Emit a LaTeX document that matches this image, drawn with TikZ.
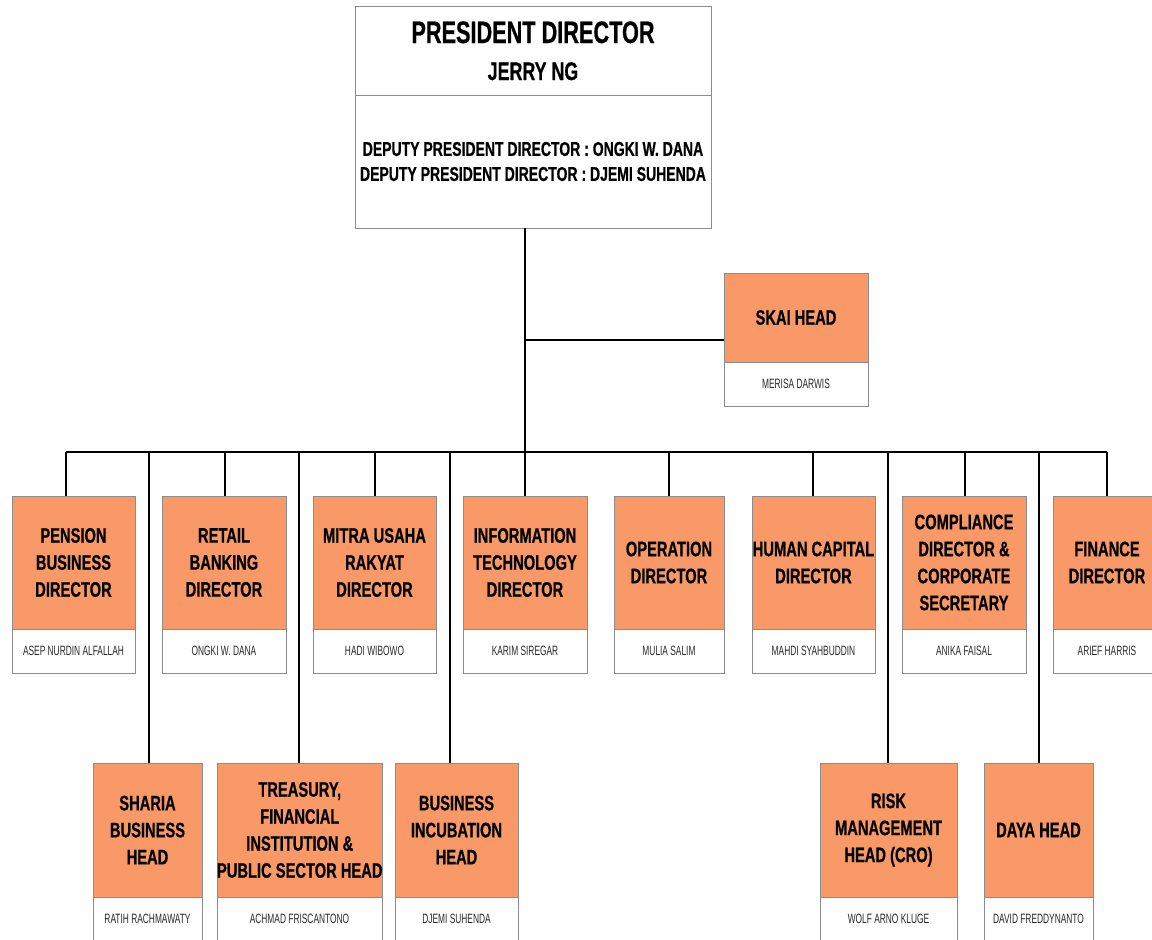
\documentclass[tikz,border=0pt]{standalone}
\usepackage{fontspec}
\setmainfont{Liberation Sans}[FakeStretch=0.7, BoldFeatures={FakeBold=0.6}]
\newfontfamily\namefont{Liberation Sans}[FakeStretch=0.62]
\definecolor{boxorange}{RGB}{250,153,104}
\definecolor{boxline}{RGB}{140,140,140}
\definecolor{nametext}{RGB}{40,40,40}
\tikzset{
  box/.style={draw=boxline, line width=0.8pt, inner sep=0pt, outer sep=0pt, anchor=north west},
  ttl/.style={box, fill=boxorange, align=center, text=black, font=\bfseries\fontsize{21}{27}\selectfont},
  nm/.style={box, fill=white, minimum height=44, text=nametext, font=\namefont\fontsize{13.5}{15}\selectfont},
  conn/.style={line width=1.3pt, black}
}
\newcommand\orgbox[7]{%
  \node[ttl, minimum width=#4, minimum height=#5] (#1) at (#2,#3) {#6};
  \node[nm, minimum width=#4] (#1n) at (#1.south west) {#7};
}
\begin{document}
\begin{tikzpicture}[x=1pt,y=-1pt]
\useasboundingbox (0,0) rectangle (1152,940);
% president box
\node[box, minimum width=356, minimum height=89] (presT) at (355,6) {};
\node[box, minimum width=356, minimum height=133, align=center, font=\bfseries\fontsize{20}{25}\selectfont] (presB) at (355,95)
  {DEPUTY PRESIDENT DIRECTOR : ONGKI W. DANA\\DEPUTY PRESIDENT DIRECTOR : DJEMI SUHENDA};
\node[anchor=base, font=\bfseries\fontsize{31}{31}\selectfont] (presTitle) at (533,43) {PRESIDENT DIRECTOR};
\node[anchor=base, font=\bfseries\fontsize{25.5}{26}\selectfont] (presName) at (533,80) {JERRY NG};
% SKAI
\orgbox{skai}{724}{273}{144}{89}{SKAI HEAD}{MERISA DARWIS}
% row 1
\orgbox{pen}{12}{496}{123}{133}{PENSION\\BUSINESS\\DIRECTOR}{ASEP NURDIN ALFALLAH}
\orgbox{ret}{162}{496}{124}{133}{RETAIL\\BANKING\\DIRECTOR}{ONGKI W. DANA}
\orgbox{mit}{313}{496}{123}{133}{MITRA USAHA\\RAKYAT\\DIRECTOR}{HADI WIBOWO}
\orgbox{it}{463}{496}{124}{133}{INFORMATION\\TECHNOLOGY\\DIRECTOR}{KARIM SIREGAR}
\orgbox{op}{614}{496}{110}{133}{OPERATION\\DIRECTOR}{MULIA SALIM}
\orgbox{hc}{752}{496}{123}{133}{HUMAN CAPITAL\\DIRECTOR}{MAHDI SYAHBUDDIN}
\orgbox{comp}{902}{496}{124}{133}{COMPLIANCE\\DIRECTOR \&\\CORPORATE\\SECRETARY}{ANIKA FAISAL}
\orgbox{fin}{1053}{496}{108}{133}{FINANCE\\DIRECTOR}{ARIEF HARRIS}
% row 2
\orgbox{sha}{93}{763}{109}{134}{SHARIA\\BUSINESS\\HEAD}{RATIH RACHMAWATY}
\orgbox{tre}{217}{763}{165}{134}{TREASURY,\\FINANCIAL\\INSTITUTION \&\\PUBLIC SECTOR HEAD}{ACHMAD FRISCANTONO}
\orgbox{inc}{395}{763}{123}{134}{BUSINESS\\INCUBATION\\HEAD}{DJEMI SUHENDA}
\orgbox{risk}{820}{763}{137}{134}{RISK\\MANAGEMENT\\HEAD (CRO)}{WOLF ARNO KLUGE}
\orgbox{daya}{984}{763}{109}{134}{DAYA HEAD}{DAVID FREDDYNANTO}
% connectors
\coordinate (trunk) at (525,452);
\coordinate (skaiTap) at (525,340);
\draw[conn] (presB.south -| trunk) -- (trunk);
\draw[conn] (skaiTap) -- (skaiTap -| skai.west);
\coordinate (penD) at (66,452);
\coordinate (retD) at (225,452);
\coordinate (mitD) at (375,452);
\coordinate (itD) at (525,452);
\coordinate (opD) at (669,452);
\coordinate (hcD) at (813,452);
\coordinate (compD) at (965,452);
\coordinate (finD) at (1107,452);
\coordinate (shaD) at (149,452);
\coordinate (treD) at (299,452);
\coordinate (incD) at (450,452);
\coordinate (riskD) at (888,452);
\coordinate (dayaD) at (1039,452);
\draw[conn] (penD) -- (finD);
\foreach \n in {pen,ret,mit,it,op,hc,comp,fin,sha,tre,inc,risk,daya}
  \draw[conn] (\n D) -- (\n D |- \n.north);
\end{tikzpicture}
\end{document}
